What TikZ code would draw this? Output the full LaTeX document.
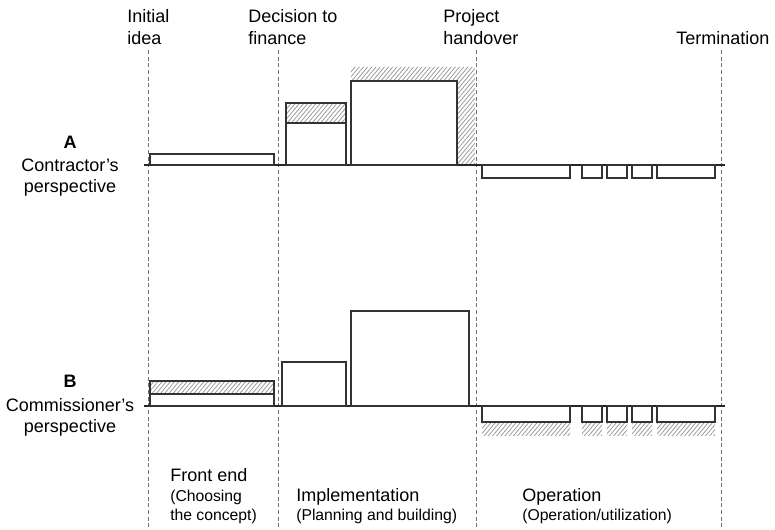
\documentclass[tikz,border=0pt]{standalone}
\usepackage{fontspec}
\setmainfont{Liberation Sans}
\usetikzlibrary{patterns.meta}
\begin{document}
\begin{tikzpicture}[x=0.75pt,y=-0.75pt,
  bar/.style={draw=black!80, line width=1.1pt},
  hatch/.style={pattern={Lines[angle=50,distance=2.4pt,line width=0.6pt]}, pattern color=black!40},
  milestone/.style={draw=black!55, line width=0.6pt, dash pattern=on 3pt off 2pt},
  timeaxis/.style={draw=black!85, line width=1.1pt},
  lbl/.style={anchor=base west, inner sep=0pt, font=\fontsize{13.5}{16}\selectfont},
  sub/.style={anchor=base west, inner sep=0pt, font=\fontsize{11.8}{14}\selectfont},
  side/.style={anchor=base, inner sep=0pt, font=\fontsize{13.5}{16}\selectfont}]
\useasboundingbox (0,0) rectangle (775,530);

% milestone lines
\foreach \x/\n in {148/ms1, 278/ms2, 476/ms3, 721/ms4}{
  \coordinate (\n top) at (\x,50);
  \coordinate (\n bot) at (\x,530);
  \draw[milestone] (\n top) -- (\n bot);
}

% milestone labels
\node[lbl] (idea1) at (127,23) {Initial};
\node[lbl] (idea2) at (127,45) {idea};
\node[lbl] (fin1) at (248,23) {Decision to};
\node[lbl] (fin2) at (248,45) {finance};
\node[lbl] (hand1) at (443,23) {Project};
\node[lbl] (hand2) at (443,45) {handover};
\node[lbl] (term) at (676,45) {Termination};

% perspective labels
\node[side, font=\fontsize{13.5}{16}\selectfont\bfseries] (pA) at (70,149) {A};
\node[side] (pA1) at (70,172) {Contractor’s};
\node[side] (pA2) at (70,193) {perspective};
\node[side, font=\fontsize{13.5}{16}\selectfont\bfseries] (pB) at (70,388) {B};
\node[side] (pB1) at (70,412) {Commissioner’s};
\node[side] (pB2) at (70,433) {perspective};

% phase labels
\node[lbl] (fe) at (170,482) {Front end};
\node[sub] (fe1) at (170,502) {(Choosing};
\node[sub] (fe2) at (170,521) {the concept)};
\node[lbl] (im) at (296,502) {Implementation};
\node[sub] (im1) at (296,521) {(Planning and building)};
\node[lbl] (op) at (522,502) {Operation};
\node[sub] (op1) at (522,521) {(Operation/utilization)};

% ---------- A: contractor ----------
\fill[hatch] (351,67) -- (475,67) -- (475,165) -- (457,165) -- (457,81) -- (351,81) -- cycle;
\fill[hatch] (286,103) rectangle (346,123);
\draw[timeaxis] (144,165) -- (725,165);
\draw[bar] (150,154) rectangle (274,165);
\draw[bar] (286,103) rectangle (346,165);
\draw[bar] (286,123) -- (346,123);
\draw[bar] (351,81) rectangle (457,165);
\foreach \a/\b in {482/570, 582/602, 607/627, 632/652, 657/715}{
  \draw[bar] (\a,165) rectangle (\b,178);
}

% ---------- B: commissioner ----------
\fill[hatch] (150,381) rectangle (274,394);
\foreach \a/\b in {482/570, 582/602, 607/627, 632/652, 657/715}{
  \fill[hatch] (\a,422) rectangle (\b,436);
}
\draw[timeaxis] (144,406) -- (725,406);
\draw[bar] (150,381) rectangle (274,406);
\draw[bar] (150,394) -- (274,394);
\draw[bar] (282,362) rectangle (346,406);
\draw[bar] (351,311) rectangle (469,406);
\foreach \a/\b in {482/570, 582/602, 607/627, 632/652, 657/715}{
  \draw[bar] (\a,406) rectangle (\b,422);
}
\end{tikzpicture}
\end{document}
